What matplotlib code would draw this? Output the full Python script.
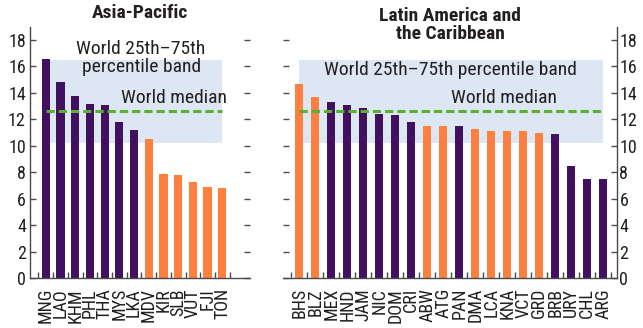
import matplotlib
matplotlib.use("Agg")
import numpy as np
import matplotlib.pyplot as plt
from matplotlib import font_manager

# Datos
paises_asia = ["MNG", "LAO", "KHM", "PHL", "THA", "MYS", "LKA",
               "MDV", "KIR", "SLB", "VUT", "FJI", "TON"]
valores_asia = [16.6, 14.8, 13.8, 13.2, 13.1, 11.8, 11.2,
                10.5, 7.9, 7.8, 7.3, 6.9, 6.8]
tipo_asia = ["p", "p", "p", "p", "p", "p", "p",
             "o", "o", "o", "o", "o", "o"]

paises_lac = ["BHS", "BLZ", "MEX", "HND", "JAM", "NIC", "DOM", "CRI", "ABW", "ATG",
              "PAN", "DMA", "LCA", "KNA", "VCT", "GRD", "BRB", "URY", "CHL", "ARG"]
valores_lac = [14.7, 13.7, 13.3, 13.1, 12.9, 12.4, 12.3, 11.8, 11.5, 11.5,
               11.5, 11.3, 11.15, 11.15, 11.15, 11.0, 10.9, 8.45, 7.5, 7.5]
tipo_lac = ["o", "o", "p", "p", "p", "p", "p", "p", "o", "o",
            "p", "o", "o", "o", "o", "o", "p", "p", "p", "p"]

banda_p25 = 10.25
banda_p75 = 16.5
mediana = 12.6

# Estilo
colores = {"p": "#41105e", "o": "#ff7f3f"}
color_banda = "#dce7f3"
color_mediana = "#5bb031"
color_texto = "#231f20"
color_eje = "#4a4a4a"


# Busca una fuente estrecha si hay alguna instalada
def elegir_fuente():
    fuentes = font_manager.fontManager.ttflist
    nombres = {f.name for f in fuentes}
    for nombre in ["Liberation Sans Narrow", "Arial Narrow", "Roboto Condensed",
                   "Open Sans Condensed", "DejaVu Sans Condensed"]:
        if nombre in nombres:
            return nombre, "normal", True
    for nombre in ["Roboto", "Open Sans", "Noto Sans", "DejaVu Sans"]:
        for f in fuentes:
            if f.name == nombre and f.stretch in ("condensed", "semi-condensed", 300, 400):
                return nombre, "condensed", True
    return "Liberation Sans", "normal", False


familia, estiramiento, estrecha = elegir_fuente()
plt.rcParams['font.family'] = [familia, 'Liberation Sans', 'DejaVu Sans']
plt.rcParams['font.stretch'] = estiramiento

if estrecha:
    fs = 13
    fs_x = 13
    fs_txt = 14
else:
    fs = 12.5
    fs_x = 10.5
    fs_txt = 12.5


def dibujar_panel(ax, paises, valores, tipo, ancho, xlim):
    n = len(paises)
    x = np.arange(n)
    # banda y mediana del mundo
    ax.fill_between([0, n - 1], banda_p25, banda_p75, color=color_banda, lw=0, zorder=0)
    ax.bar(x, valores, width=ancho, color=[colores[t] for t in tipo], zorder=2)
    ax.plot([0, n - 1], [mediana, mediana], color=color_mediana, lw=2.2,
            dashes=(2.7, 1.3), zorder=3)
    ax.set_xlim(*xlim)
    ax.set_ylim(0, 19)
    ax.set_yticks(range(0, 19, 2))
    ax.set_xticks(x)
    ax.set_xticklabels(paises, rotation=90, fontsize=fs_x, color=color_texto)
    ax.set_xticks(np.arange(-0.5, n, 1.0), minor=True)
    ax.tick_params(axis="x", which="major", length=0, pad=7)
    ax.tick_params(axis="x", which="minor", direction="in", length=4,
                   width=1, color=color_eje)
    ax.tick_params(axis="y", direction="in", length=4, width=1, color=color_eje,
                   labelsize=fs, labelcolor=color_texto, pad=3)
    ax.spines["top"].set_visible(False)
    for s in ax.spines.values():
        s.set_color(color_eje)
        s.set_linewidth(1.0)


fig = plt.figure(figsize=(6.43, 3.28), dpi=100)
ax1 = fig.add_axes([0.0467, 0.1515, 0.342, 0.767])
ax2 = fig.add_axes([0.4406, 0.1515, 0.5185, 0.767])

# Panel Asia-Pacífico
dibujar_panel(ax1, paises_asia, valores_asia, tipo_asia, 0.56, (-1.075, 13.88))
ax1.spines["right"].set_visible(False)
ax1.tick_params(axis="y", left=True, right=True, labelleft=True, labelright=False)
ax1.text(0.5, 1.054, "Asia-Pacific", transform=ax1.transAxes, ha="center",
         va="center", fontsize=fs_txt, fontweight="bold", color=color_texto)
ax1.text(6.48, 16.65, "World 25th\u201375th\npercentile band", ha="center", va="center",
         fontsize=fs_txt, color=color_texto, linespacing=1.0, zorder=4)
ax1.text(8.69, 13.65, "World median", ha="center", va="center",
         fontsize=fs_txt, color=color_texto, zorder=4)

# Panel América Latina y el Caribe
dibujar_panel(ax2, paises_lac, valores_lac, tipo_lac, 0.52, (-1.0, 19.84))
ax2.spines["left"].set_visible(False)
ax2.tick_params(axis="y", left=True, right=True, labelleft=False, labelright=True, pad=2)
ax2.text(0.5, 1.007, "Latin America and\nthe Caribbean", transform=ax2.transAxes,
         ha="center", va="center", fontsize=fs_txt, fontweight="bold",
         color=color_texto, linespacing=1.05)
ax2.text(9.42, 15.7, "World 25th\u201375th percentile band", ha="center", va="center",
         fontsize=fs_txt, color=color_texto, zorder=4)
ax2.text(12.8, 13.6, "World median", ha="center", va="center",
         fontsize=fs_txt, color=color_texto, zorder=4)

fig.savefig("out.png", dpi=100)
